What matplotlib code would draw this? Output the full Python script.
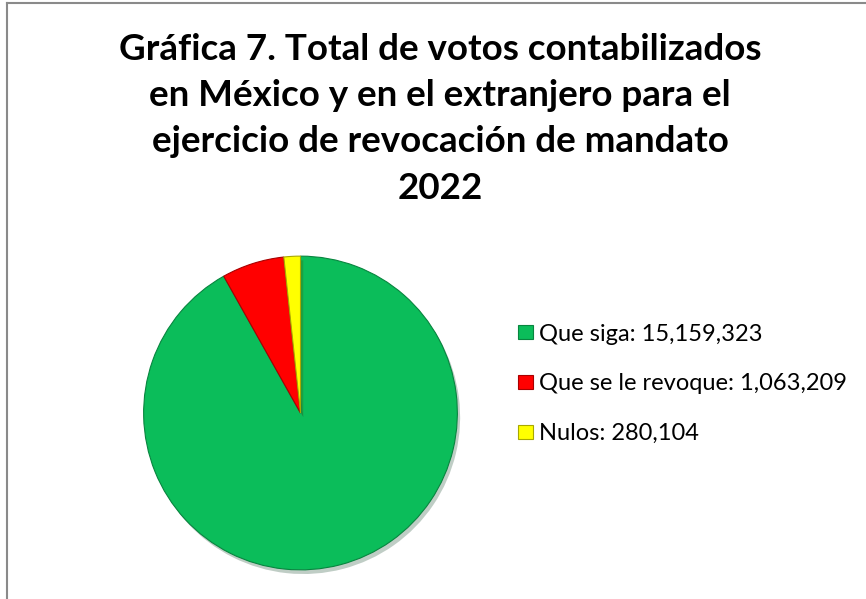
import matplotlib
matplotlib.use("Agg")
import matplotlib.pyplot as plt
from matplotlib import patheffects
from matplotlib.lines import Line2D

# data
labels = ["Que siga", "Que se le revoque", "Nulos"]
votes = [15159323, 1063209, 280104]
colors = ["#0bbd5a", "#ff0000", "#ffff00"]
edges = ["#08853f", "#a80000", "#a8a800"]
title = ("Gráfica 7. Total de votos contabilizados\n"
         "en México y en el extranjero para el\n"
         "ejercicio de revocación de mandato\n"
         "2022")

W, H = 866, 599
fig = plt.figure(figsize=(W / 100, H / 100), dpi=100)
fig.patch.set_facecolor("white")

# outer chart-area frame
fig.add_artist(Line2D([7 / W, 7 / W], [0, 1 - 3 / H], color="#8a8a8a", lw=1.5))
fig.add_artist(Line2D([7 / W, 1], [1 - 3 / H, 1 - 3 / H], color="#8a8a8a", lw=1.5))

fig.text(440 / W, 1 - 33 / H, title, ha="center", va="top",
         fontsize=26.5, fontweight="bold", family=["Lato", "DejaVu Sans"],
         linespacing=1.49, color="black")

cx, cy, r = 300.5, 413, 160
ax = fig.add_axes([(cx - r) / W, 1 - (cy + r) / H, 2 * r / W, 2 * r / H])
wedges, _ = ax.pie(votes, colors=colors, startangle=90, counterclock=False,
                   radius=1, wedgeprops=dict(linewidth=0.8))
for w, ec in zip(wedges, edges):
    w.set_edgecolor(ec)
    w.set_path_effects([patheffects.SimplePatchShadow(offset=(2, -3), alpha=0.25),
                        patheffects.Normal()])
ax.set_xlim(-1.02, 1.02)
ax.set_ylim(-1.02, 1.02)
ax.set_aspect("equal")
ax.axis("off")

leg_labels = [f"{l}: {v:,}" for l, v in zip(labels, votes)]
leg = fig.legend(wedges, leg_labels, loc="center left",
                 bbox_to_anchor=(518 / W, 1 - 384 / H), frameon=False,
                 prop=dict(family=["Lato", "DejaVu Sans"], size=17),
                 handlelength=0.62, handleheight=0.55, handletextpad=0.25,
                 labelspacing=1.22, borderpad=0, borderaxespad=0)
for h in leg.legend_handles:
    h.set_path_effects([])

fig.savefig("out.png", dpi=100)
